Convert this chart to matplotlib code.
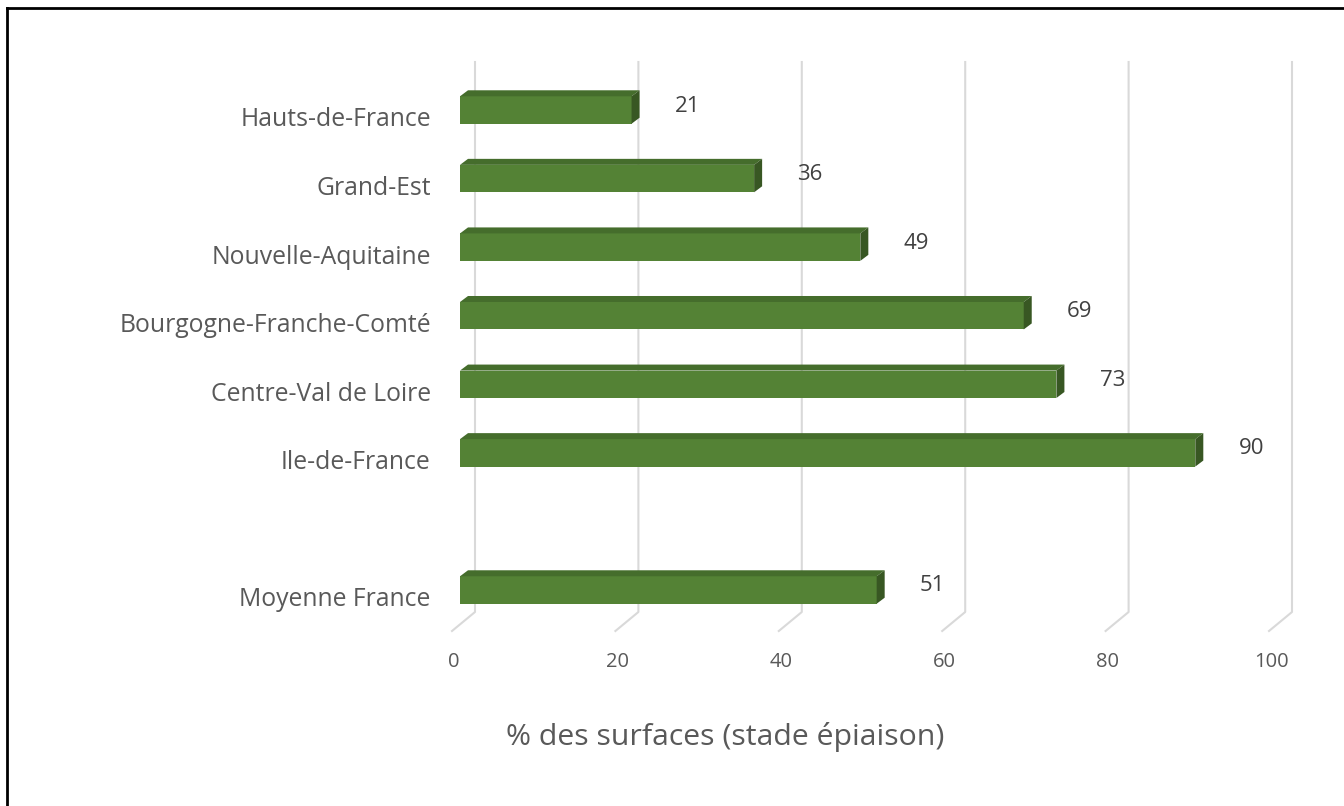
import matplotlib
matplotlib.use("Agg")
import matplotlib.pyplot as plt
from matplotlib.patches import Polygon
from matplotlib.lines import Line2D
from matplotlib.transforms import ScaledTranslation
import numpy as np

plt.rcParams['font.family'] = ['Open Sans', 'DejaVu Sans']

# data (top to bottom, empty slot before the national average)
regions = ["Hauts-de-France", "Grand-Est", "Nouvelle-Aquitaine",
           "Bourgogne-Franche-Comté", "Centre-Val de Loire", "Ile-de-France",
           "", "Moyenne France"]
values = [21, 36, 49, 69, 73, 90, None, 51]
xticks = [0, 20, 40, 60, 80, 100]
xlabel = "% des surfaces (stade épiaison)"

W, H = 1344, 806
fig = plt.figure(figsize=(W / 100, H / 100), dpi=100)
# axes in pixel terms: front plane x 0..100 -> 460..1277, plot y 62..612
ax = fig.add_axes([460 / W, 1 - 612 / H, (1277 - 460) / W, (612 - 62) / H])
ax.set_xlim(0, 100)
ax.set_ylim((612 - 110) / 68.57, (62 - 110) / 68.57)
for s in ax.spines.values():
    s.set_visible(False)
ax.tick_params(length=0)

front = "#548235"
top_c = "#456d2c"
side_c = "#385723"
grid_c = "#d9d9d9"
txt_c = "#595959"

def shift(x, y, dx, dy):
    # move a data point by dx, dy pixels (dy positive = up)
    px, py = ax.transData.transform((x, y))
    return ax.transData.inverted().transform((px + dx, py + dy))

y_top, y_bot = ax.get_ylim()[1], ax.get_ylim()[0]

# back wall gridlines with the floor going forward
for v in xticks:
    p1 = shift(v, y_top, 15, 0)
    p2 = shift(v, y_bot, 15, 0)
    p3 = shift(v, y_bot, -8, -19)
    ax.add_line(Line2D([p1[0], p2[0], p3[0]], [p1[1], p2[1], p3[1]],
                       color=grid_c, lw=1.5, zorder=0, clip_on=False))

ypos = np.arange(len(regions))
bh = 0.4
dx, dy = 8, 6
for y, v in zip(ypos, values):
    if v is None:
        continue
    ax.barh(y, v, height=bh, color=front, zorder=3)
    top = y - bh / 2
    bot = y + bh / 2
    a = (0, top); b = (v, top)
    c = shift(v, top, dx, dy); d = shift(0, top, dx, dy)
    ax.add_patch(Polygon([a, b, c, d], closed=True, color=top_c, zorder=3, lw=0))
    e = (v, bot); f = shift(v, bot, dx, dy)
    ax.add_patch(Polygon([b, c, f, e], closed=True, color=side_c, zorder=3, lw=0))
    lx, ly = shift(v, y, 56, 4)
    ax.text(lx, ly, str(v), ha="center", va="center", fontsize=16,
            color="#404040", zorder=4)

ax.set_yticks(ypos)
ax.set_yticklabels(regions, fontsize=17.8, color=txt_c)
ax.tick_params(axis="y", pad=21)
off_y = ScaledTranslation(0, -7 / 100, fig.dpi_scale_trans)
for lab in ax.get_yticklabels():
    lab.set_transform(lab.get_transform() + off_y)

ax.set_xticks(xticks)
ax.set_xticklabels([str(t) for t in xticks], fontsize=14.5, color=txt_c)
ax.tick_params(axis="x", pad=29)
off_x = ScaledTranslation(-6 / 100, 0, fig.dpi_scale_trans)
for lab in ax.get_xticklabels():
    lab.set_transform(lab.get_transform() + off_x)

fig.text(725 / W, 1 - 737 / H, xlabel, ha="center", va="center",
         fontsize=21.8, color=txt_c)

# frame on top and left edges
fig.add_artist(Line2D([6.5 / W, 6.5 / W], [0, 1 - 8 / H], transform=fig.transFigure,
                      color="black", lw=2))
fig.add_artist(Line2D([6.5 / W, 1], [1 - 8 / H, 1 - 8 / H], transform=fig.transFigure,
                      color="black", lw=2))

fig.savefig("out.png", dpi=100)
